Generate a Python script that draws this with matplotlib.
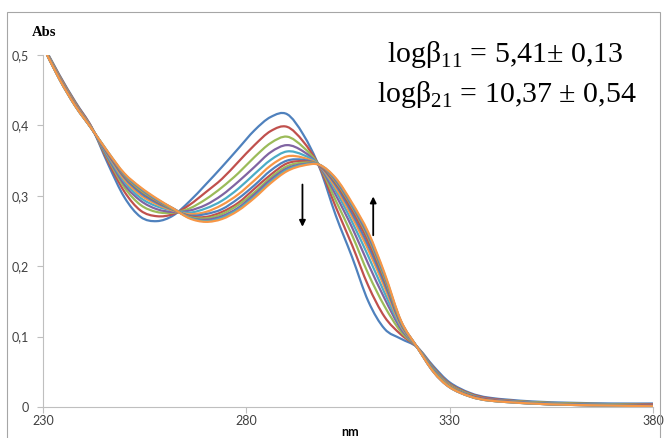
import matplotlib.pyplot as plt
from matplotlib.path import Path
from matplotlib.patches import PathPatch, Rectangle

plt.rcParams['mathtext.fontset'] = 'custom'
plt.rcParams['mathtext.rm'] = 'Liberation Serif'

# wavelengths (nm)
wavelength = [230, 234, 238, 242, 246, 250, 254, 258, 262, 266, 270, 274, 278, 282, 286,
              290, 294, 298, 302, 306, 310, 314, 318, 322, 326, 330, 335, 340, 350, 360, 370, 380]

# absorbance of each spectrum in the titration
abs_01 = [0.515, 0.472, 0.433, 0.397, 0.345, 0.298, 0.270, 0.264, 0.272, 0.292, 0.316, 0.341, 0.367, 0.393, 0.412, 0.416,
          0.387, 0.340, 0.272, 0.213, 0.150, 0.111, 0.097, 0.085, 0.058, 0.035, 0.020, 0.013, 0.008, 0.006, 0.005, 0.005]
abs_02 = [0.514, 0.471, 0.432, 0.397, 0.349, 0.306, 0.279, 0.271, 0.274, 0.287, 0.305, 0.324, 0.348, 0.372, 0.392, 0.398,
          0.377, 0.341, 0.284, 0.230, 0.172, 0.128, 0.103, 0.085, 0.056, 0.033, 0.019, 0.012, 0.007, 0.005, 0.004, 0.004]
abs_03 = [0.514, 0.470, 0.431, 0.396, 0.352, 0.312, 0.287, 0.277, 0.276, 0.282, 0.295, 0.312, 0.332, 0.355, 0.375, 0.384,
          0.369, 0.342, 0.293, 0.244, 0.189, 0.143, 0.107, 0.085, 0.055, 0.032, 0.018, 0.011, 0.007, 0.005, 0.004, 0.003]
abs_04 = [0.513, 0.469, 0.430, 0.396, 0.354, 0.316, 0.293, 0.281, 0.277, 0.279, 0.287, 0.301, 0.320, 0.341, 0.362, 0.372,
          0.363, 0.342, 0.301, 0.255, 0.203, 0.154, 0.111, 0.085, 0.054, 0.031, 0.017, 0.011, 0.006, 0.004, 0.003, 0.003]
abs_05 = [0.513, 0.468, 0.429, 0.396, 0.356, 0.320, 0.297, 0.285, 0.279, 0.276, 0.282, 0.293, 0.310, 0.331, 0.351, 0.363,
          0.358, 0.343, 0.307, 0.263, 0.214, 0.162, 0.114, 0.085, 0.053, 0.030, 0.017, 0.010, 0.006, 0.004, 0.003, 0.002]
abs_06 = [0.513, 0.468, 0.429, 0.396, 0.358, 0.323, 0.301, 0.288, 0.279, 0.274, 0.277, 0.287, 0.302, 0.322, 0.343, 0.356,
          0.354, 0.343, 0.311, 0.270, 0.223, 0.170, 0.116, 0.085, 0.052, 0.030, 0.016, 0.010, 0.006, 0.004, 0.003, 0.002]
abs_07 = [0.513, 0.467, 0.428, 0.395, 0.359, 0.326, 0.304, 0.290, 0.280, 0.272, 0.274, 0.281, 0.296, 0.315, 0.336, 0.350,
          0.351, 0.343, 0.315, 0.275, 0.229, 0.175, 0.118, 0.085, 0.052, 0.029, 0.016, 0.010, 0.006, 0.004, 0.003, 0.002]
abs_08 = [0.512, 0.467, 0.428, 0.395, 0.360, 0.328, 0.307, 0.292, 0.281, 0.271, 0.270, 0.277, 0.290, 0.310, 0.330, 0.346,
          0.349, 0.343, 0.318, 0.280, 0.235, 0.180, 0.120, 0.085, 0.051, 0.029, 0.016, 0.010, 0.005, 0.003, 0.002, 0.002]
abs_09 = [0.512, 0.466, 0.427, 0.395, 0.361, 0.329, 0.308, 0.293, 0.281, 0.270, 0.268, 0.274, 0.287, 0.305, 0.326, 0.342,
          0.347, 0.344, 0.320, 0.284, 0.240, 0.183, 0.121, 0.085, 0.051, 0.029, 0.015, 0.009, 0.005, 0.003, 0.002, 0.001]
abs_10 = [0.512, 0.466, 0.427, 0.395, 0.361, 0.330, 0.310, 0.294, 0.282, 0.269, 0.266, 0.271, 0.283, 0.302, 0.323, 0.339,
          0.345, 0.344, 0.322, 0.286, 0.243, 0.186, 0.122, 0.085, 0.050, 0.028, 0.015, 0.009, 0.005, 0.003, 0.002, 0.001]
abs_11 = [0.512, 0.466, 0.427, 0.395, 0.362, 0.331, 0.311, 0.295, 0.282, 0.269, 0.264, 0.269, 0.281, 0.299, 0.320, 0.337,
          0.344, 0.344, 0.324, 0.288, 0.246, 0.188, 0.122, 0.085, 0.050, 0.028, 0.015, 0.009, 0.005, 0.003, 0.002, 0.001]
abs_12 = [0.512, 0.466, 0.427, 0.395, 0.362, 0.332, 0.312, 0.296, 0.282, 0.268, 0.263, 0.267, 0.279, 0.297, 0.318, 0.335,
          0.343, 0.344, 0.325, 0.290, 0.248, 0.190, 0.123, 0.085, 0.050, 0.028, 0.015, 0.009, 0.005, 0.003, 0.002, 0.001]

spectra = [abs_01, abs_02, abs_03, abs_04, abs_05, abs_06,
           abs_07, abs_08, abs_09, abs_10, abs_11, abs_12]

# excel 2010 palette, repeated
colors = ['#4F81BD', '#C0504D', '#9BBB59', '#8064A2', '#4BACC6', '#F79646'] * 2

x_ticks = [230, 280, 330, 380]
y_ticks = [0, 0.1, 0.2, 0.3, 0.4, 0.5]
y_labels = ['0', '0,1', '0,2', '0,3', '0,4', '0,5']


def smooth_path(xs, ys):
    # excel style "smoothed line": catmull-rom turned into bezier segments
    verts = [(xs[0], ys[0])]
    codes = [Path.MOVETO]
    n = len(xs)
    for i in range(n - 1):
        i0 = max(i - 1, 0)
        i3 = min(i + 2, n - 1)
        c1 = (xs[i] + (xs[i + 1] - xs[i0]) / 6, ys[i] + (ys[i + 1] - ys[i0]) / 6)
        c2 = (xs[i + 1] - (xs[i3] - xs[i]) / 6, ys[i + 1] - (ys[i3] - ys[i]) / 6)
        verts += [c1, c2, (xs[i + 1], ys[i + 1])]
        codes += [Path.CURVE4] * 3
    return Path(verts, codes)


fig = plt.figure(figsize=(6.66, 4.38), dpi=100)
ax = fig.add_axes([43 / 666, 1 - 407 / 438, 610 / 666, 352 / 438])

for sp, c in zip(spectra, colors):
    ax.add_patch(PathPatch(smooth_path(wavelength, sp), fill=False,
                           edgecolor=c, lw=1.6, capstyle='round'))

ax.set_xlim(230, 380)
ax.set_ylim(0, 0.5)
ax.set_xticks(x_ticks)
ax.set_xticklabels([str(t) for t in x_ticks])
ax.set_yticks(y_ticks)
ax.set_yticklabels(y_labels)

for s in ['top', 'right']:
    ax.spines[s].set_visible(False)
for s in ['left', 'bottom']:
    ax.spines[s].set_color('#BFBFBF')
    ax.spines[s].set_linewidth(0.8)
ax.tick_params(axis='both', direction='out', length=4, width=0.8, color='#BFBFBF',
               labelsize=9, labelcolor='#404040')
ax.tick_params(axis='y', pad=6)
ax.tick_params(axis='x', pad=2)
for lab in ax.get_xticklabels() + ax.get_yticklabels():
    lab.set_family('Lato')

# arrows showing direction of change
ax.annotate('', xy=(293.8, 0.256), xytext=(293.8, 0.316),
            arrowprops=dict(arrowstyle='-|>', lw=1.3, color='black', mutation_scale=9,
                            shrinkA=0, shrinkB=0))
ax.annotate('', xy=(311.2, 0.299), xytext=(311.2, 0.244),
            arrowprops=dict(arrowstyle='-|>', lw=1.3, color='black', mutation_scale=9,
                            shrinkA=0, shrinkB=0))

fig.text(44 / 666, 1 - 33 / 438, 'Abs', family='Liberation Serif', weight='bold',
         fontsize=10.5, ha='center', va='center')
fig.text(350 / 666, 1 - 432 / 438, 'nm', family='Lato', weight='bold',
         fontsize=9, ha='center', va='center')

fig.text(505 / 666, 1 - 62 / 438, r'log$\mathrm{β}_{11}$ = 5,41± 0,13',
         family='Liberation Serif', fontsize=21.5, ha='center', va='baseline')
fig.text(507 / 666, 1 - 102 / 438, r'log$\mathrm{β}_{21}$ = 10,37 ± 0,54',
         family='Liberation Serif', fontsize=21.5, ha='center', va='baseline')

# outer frame of the chart area
fig.patches.append(Rectangle((7 / 666, -0.05), 653 / 666, 1.05 - 12 / 438, fill=False,
                             edgecolor='#A6A6A6', lw=0.8, transform=fig.transFigure))

fig.savefig('out.png', dpi=100)
